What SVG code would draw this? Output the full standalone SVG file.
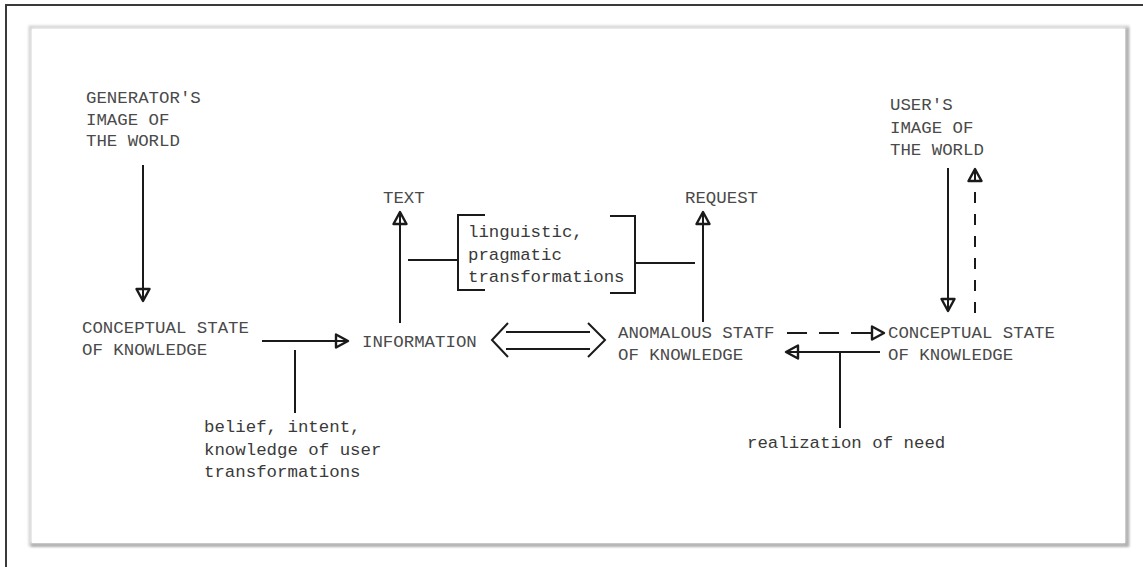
<svg xmlns="http://www.w3.org/2000/svg" width="1143" height="567" viewBox="0 0 1143 567">
  <defs>
    <style>
      .t { font-family: "Liberation Mono", "DejaVu Sans Mono", monospace; font-size: 17.4px; fill: #4a4a4a; }
      .lc { fill: #3a3a3a; }
      .ln { stroke: #1a1a1a; stroke-width: 2; fill: none; stroke-linecap: butt; }
      .dash-h { stroke-dasharray: 20 12; }
      .dash-v { stroke-dasharray: 11 11; }
    </style>
    <!-- typewriter-style open triangle head; the shaft shows through it -->
    <marker id="tri" markerUnits="userSpaceOnUse" markerWidth="16" markerHeight="16" viewBox="0 0 16 16" refX="14" refY="8" orient="auto">
      <path d="M2,1.5 L14,8 L2,14.5 Z" fill="none" stroke="#1a1a1a" stroke-width="2.4" stroke-linejoin="round"/>
    </marker>
    <filter id="soft" x="-5%" y="-5%" width="110%" height="110%">
      <feGaussianBlur stdDeviation="1.2"/>
    </filter>
  </defs>

  <rect x="0" y="0" width="1143" height="567" fill="#ffffff"/>

  <!-- outer frame -->
  <g id="frame">
    <line x1="5" y1="5" x2="1143" y2="5" stroke="#3a3a3a" stroke-width="2"/>
    <line x1="6" y1="5" x2="6" y2="567" stroke="#3a3a3a" stroke-width="2"/>
  </g>

  <!-- inner panel: light top/left edge, darker shadow on right/bottom -->
  <g id="panel">
    <rect x="30" y="27" width="1098" height="518" fill="none" stroke="#d4d4d4" stroke-width="3" filter="url(#soft)"/>
    <path d="M1127,28 L1127,545 L31,545" fill="none" stroke="#b0b0b0" stroke-width="3.5" filter="url(#soft)"/>
    <rect x="32" y="29" width="1093" height="514" fill="#ffffff"/>
  </g>

  <!-- connectors -->
  <g id="connectors">
    <!-- generator's image -> conceptual state -->
    <line class="ln" x1="143" y1="165" x2="143" y2="301" marker-end="url(#tri)"/>
    <!-- conceptual state -> information -->
    <line class="ln" x1="262" y1="341" x2="348" y2="341" marker-end="url(#tri)"/>
    <line class="ln" x1="295" y1="350" x2="295" y2="413"/>
    <!-- information -> text -->
    <line class="ln" x1="400" y1="323" x2="400" y2="212" marker-end="url(#tri)"/>
    <!-- transformations bracket -->
    <line class="ln" x1="408" y1="260" x2="457" y2="260"/>
    <path class="ln" d="M485,215 L458,215 L458,290 L485,290"/>
    <path class="ln" d="M610,216 L635,216 L635,293 L610,293"/>
    <line class="ln" x1="635" y1="263" x2="695" y2="263"/>
    <!-- anomalous state -> request -->
    <line class="ln" x1="703" y1="322" x2="703" y2="212" marker-end="url(#tri)"/>
    <!-- information <=> anomalous state -->
    <line class="ln" x1="506" y1="332" x2="590" y2="332"/>
    <line class="ln" x1="506" y1="349" x2="590" y2="349"/>
    <polyline class="ln" points="508,323 492,340 508,357"/>
    <polyline class="ln" points="588,323 605,340 588,357"/>
    <!-- anomalous state -> user's conceptual state (dashed) -->
    <line class="ln dash-h" x1="787" y1="333" x2="884" y2="333" marker-end="url(#tri)"/>
    <!-- user's conceptual state -> anomalous state -->
    <line class="ln" x1="880" y1="352" x2="786" y2="352" marker-end="url(#tri)"/>
    <line class="ln" x1="840" y1="352" x2="840" y2="428"/>
    <!-- user's image <-> user's conceptual state -->
    <line class="ln" x1="948" y1="168" x2="948" y2="311" marker-end="url(#tri)"/>
    <line class="ln dash-v" x1="975" y1="313" x2="975" y2="169" marker-end="url(#tri)"/>
  </g>

  <g id="generator-image">
    <text class="t" x="86" y="103">GENERATOR'S</text>
    <text class="t" x="86" y="125">IMAGE OF</text>
    <text class="t" x="86" y="146">THE WORLD</text>
  </g>

  <g id="generator-state">
    <text class="t" x="82" y="333">CONCEPTUAL STATE</text>
    <text class="t" x="82" y="355">OF KNOWLEDGE</text>
  </g>

  <g id="generator-transformations">
    <text class="t lc" x="204" y="432">belief, intent,</text>
    <text class="t lc" x="204" y="455">knowledge of user</text>
    <text class="t lc" x="204" y="477">transformations</text>
  </g>

  <g id="information">
    <text class="t" x="362" y="347">INFORMATION</text>
  </g>

  <g id="text-node">
    <text class="t" x="383" y="203">TEXT</text>
  </g>

  <g id="linguistic-transformations">
    <text class="t lc" x="468" y="237">linguistic,</text>
    <text class="t lc" x="468" y="260">pragmatic</text>
    <text class="t lc" x="468" y="282">transformations</text>
  </g>

  <g id="request">
    <text class="t" x="685" y="203">REQUEST</text>
  </g>

  <g id="anomalous-state">
    <text class="t" x="618" y="338">ANOMALOUS STATF</text>
    <text class="t" x="618" y="360">OF KNOWLEDGE</text>
  </g>

  <g id="user-state">
    <text class="t" x="888" y="338">CONCEPTUAL STATE</text>
    <text class="t" x="888" y="360">OF KNOWLEDGE</text>
  </g>

  <g id="user-image">
    <text class="t" x="890" y="110">USER'S</text>
    <text class="t" x="890" y="133">IMAGE OF</text>
    <text class="t" x="890" y="155">THE WORLD</text>
  </g>

  <g id="need">
    <text class="t lc" x="747" y="448">realization of need</text>
  </g>
</svg>
